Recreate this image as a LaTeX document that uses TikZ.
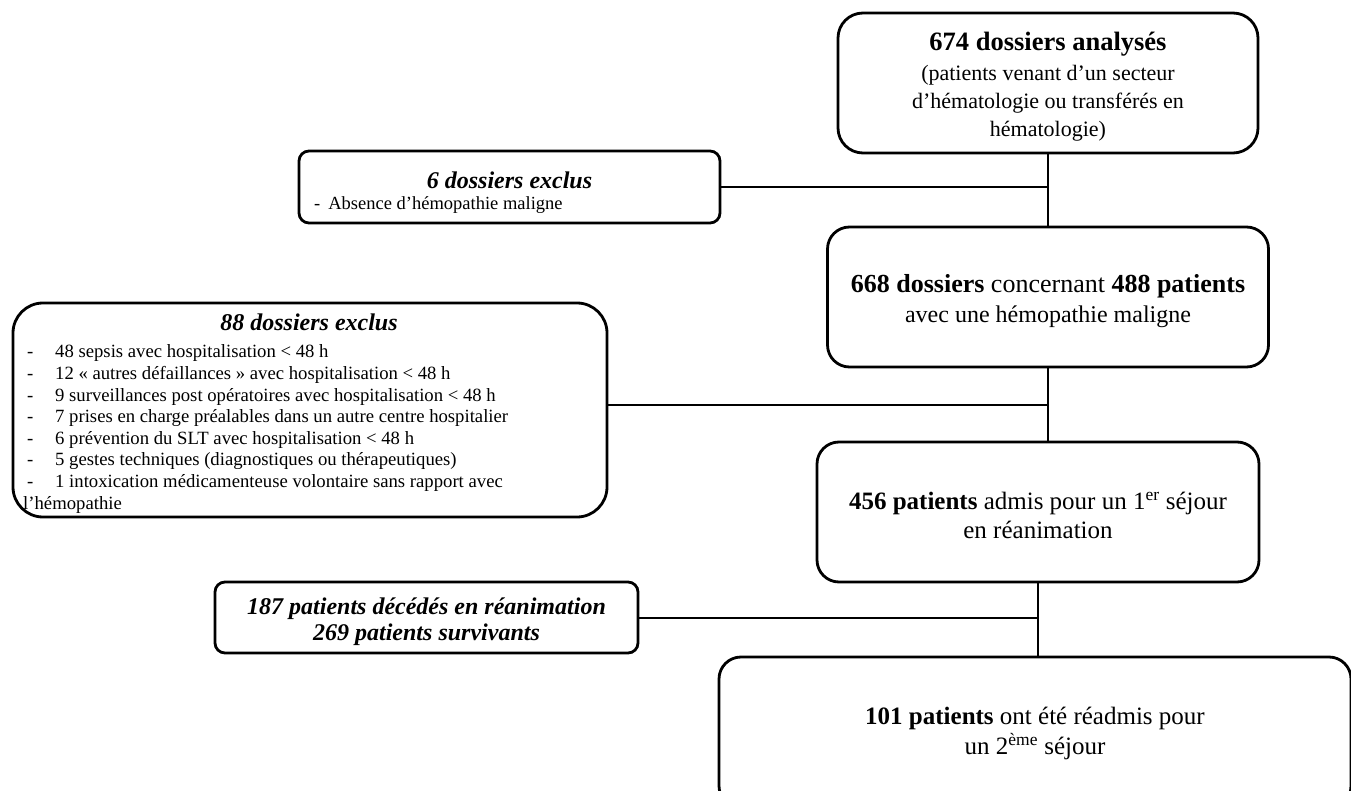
\documentclass[tikz,border=0pt]{standalone}
\usepackage{fontspec}
\setmainfont{Liberation Serif}
\newcommand\fsz[2]{\fontsize{#1}{#2}\selectfont}
\tikzset{
  box/.style={draw, line width=2.8pt, rounded corners=#1, inner sep=0pt},
  box/.default=22pt,
  txt/.style={inner sep=0pt, align=center},
  conn/.style={line width=2.6pt}
}
\begin{document}
\begin{tikzpicture}[x=1pt,y=-1pt]
\useasboundingbox (0,0) rectangle (1351,791);
\fill[white] (0,0) rectangle (1351,791);

% main column
\node[box=25pt, minimum width=420pt, minimum height=140pt] (top) at (1048,83) {};
\node[txt, font=\fsz{22}{28}] (topt) at (1048,86.5)
  {{\fsz{26.5}{30}\bfseries 674 dossiers analysés}\\[2pt](patients venant d’un secteur\\d’hématologie ou transférés en\\hématologie)};
\node[box, minimum width=441pt, minimum height=140pt] (b2) at (1048,297) {};
\node[txt, font=\fsz{24}{30}] (b2t) at (1048,301)
  {{\fsz{26}{30}\textbf{668 dossiers} concernant \textbf{488 patients}}\\avec une hémopathie maligne};
\node[box, minimum width=442pt, minimum height=140pt] (b3) at (1038,512) {};
\node[txt, font=\fsz{25}{29}] (b3t) at (1038,515)
  {\textbf{456 patients} admis pour un 1\textsuperscript{er} séjour\\en réanimation};
\node[box, minimum width=632pt, minimum height=151pt] (b4) at (1035,732.5) {};
\node[txt, font=\fsz{25}{30}] (b4t) at (1035,733.5)
  {\textbf{101 patients} ont été réadmis pour\\un 2\textsuperscript{ème} séjour};

% exclusion boxes
\node[box=10pt, minimum width=421pt, minimum height=72pt] (ex1) at (509.5,187) {};
\node[txt, font=\fsz{24}{28}\bfseries\itshape] (ex1t) at (509.5,180) {6 dossiers exclus};
\node[txt, anchor=west, font=\fsz{18.5}{21.5}] (ex1l) at (314,205) {-\hspace{8pt}Absence d’hémopathie maligne};

\node[box=30pt, minimum width=594pt, minimum height=214pt] (ex2) at (310,410) {};
\node[txt, font=\fsz{24}{28}\bfseries\itshape] (ex2t) at (309,322) {88 dossiers exclus};
\node[txt, anchor=west, align=left, font=\fsz{18.7}{21.6}] (ex2l) at (20,429)
  {\hspace*{7pt}\makebox[28pt][l]{-}48 sepsis avec hospitalisation < 48 h\\
   \hspace*{7pt}\makebox[28pt][l]{-}12 « autres défaillances » avec hospitalisation < 48 h\\
   \hspace*{7pt}\makebox[28pt][l]{-}9 surveillances post opératoires avec hospitalisation < 48 h\\
   \hspace*{7pt}\makebox[28pt][l]{-}7 prises en charge préalables dans un autre centre hospitalier\\
   \hspace*{7pt}\makebox[28pt][l]{-}6 prévention du SLT avec hospitalisation < 48 h\\
   \hspace*{7pt}\makebox[28pt][l]{-}5 gestes techniques (diagnostiques ou thérapeutiques)\\
   \hspace*{7pt}\makebox[28pt][l]{-}1 intoxication médicamenteuse volontaire sans rapport avec\\
   \hspace*{3pt}l’hémopathie};

\node[box=10pt, minimum width=423pt, minimum height=71pt] (ex3) at (426.5,617.5) {};
\node[txt, font=\fsz{24}{26}\bfseries\itshape] (ex3t) at (426.5,621.5)
  {187 patients décédés en réanimation\\269 patients survivants};

% junction points on the main column
\coordinate (j1) at (1048,187);
\coordinate (j2) at (1048,405);
\coordinate (j3) at (1038,618);

% connectors
\draw[conn] (top.south) -- (b2.north);
\draw[conn] (j1 -| ex1.east) -- (j1);
\draw[conn] (b2.south) -- (b2.south |- b3.north);
\draw[conn] (j2 -| ex2.east) -- (j2);
\draw[conn] (b3.south) -- (b3.south |- b4.north);
\draw[conn] (j3 -| ex3.east) -- (j3);
\end{tikzpicture}
\end{document}
